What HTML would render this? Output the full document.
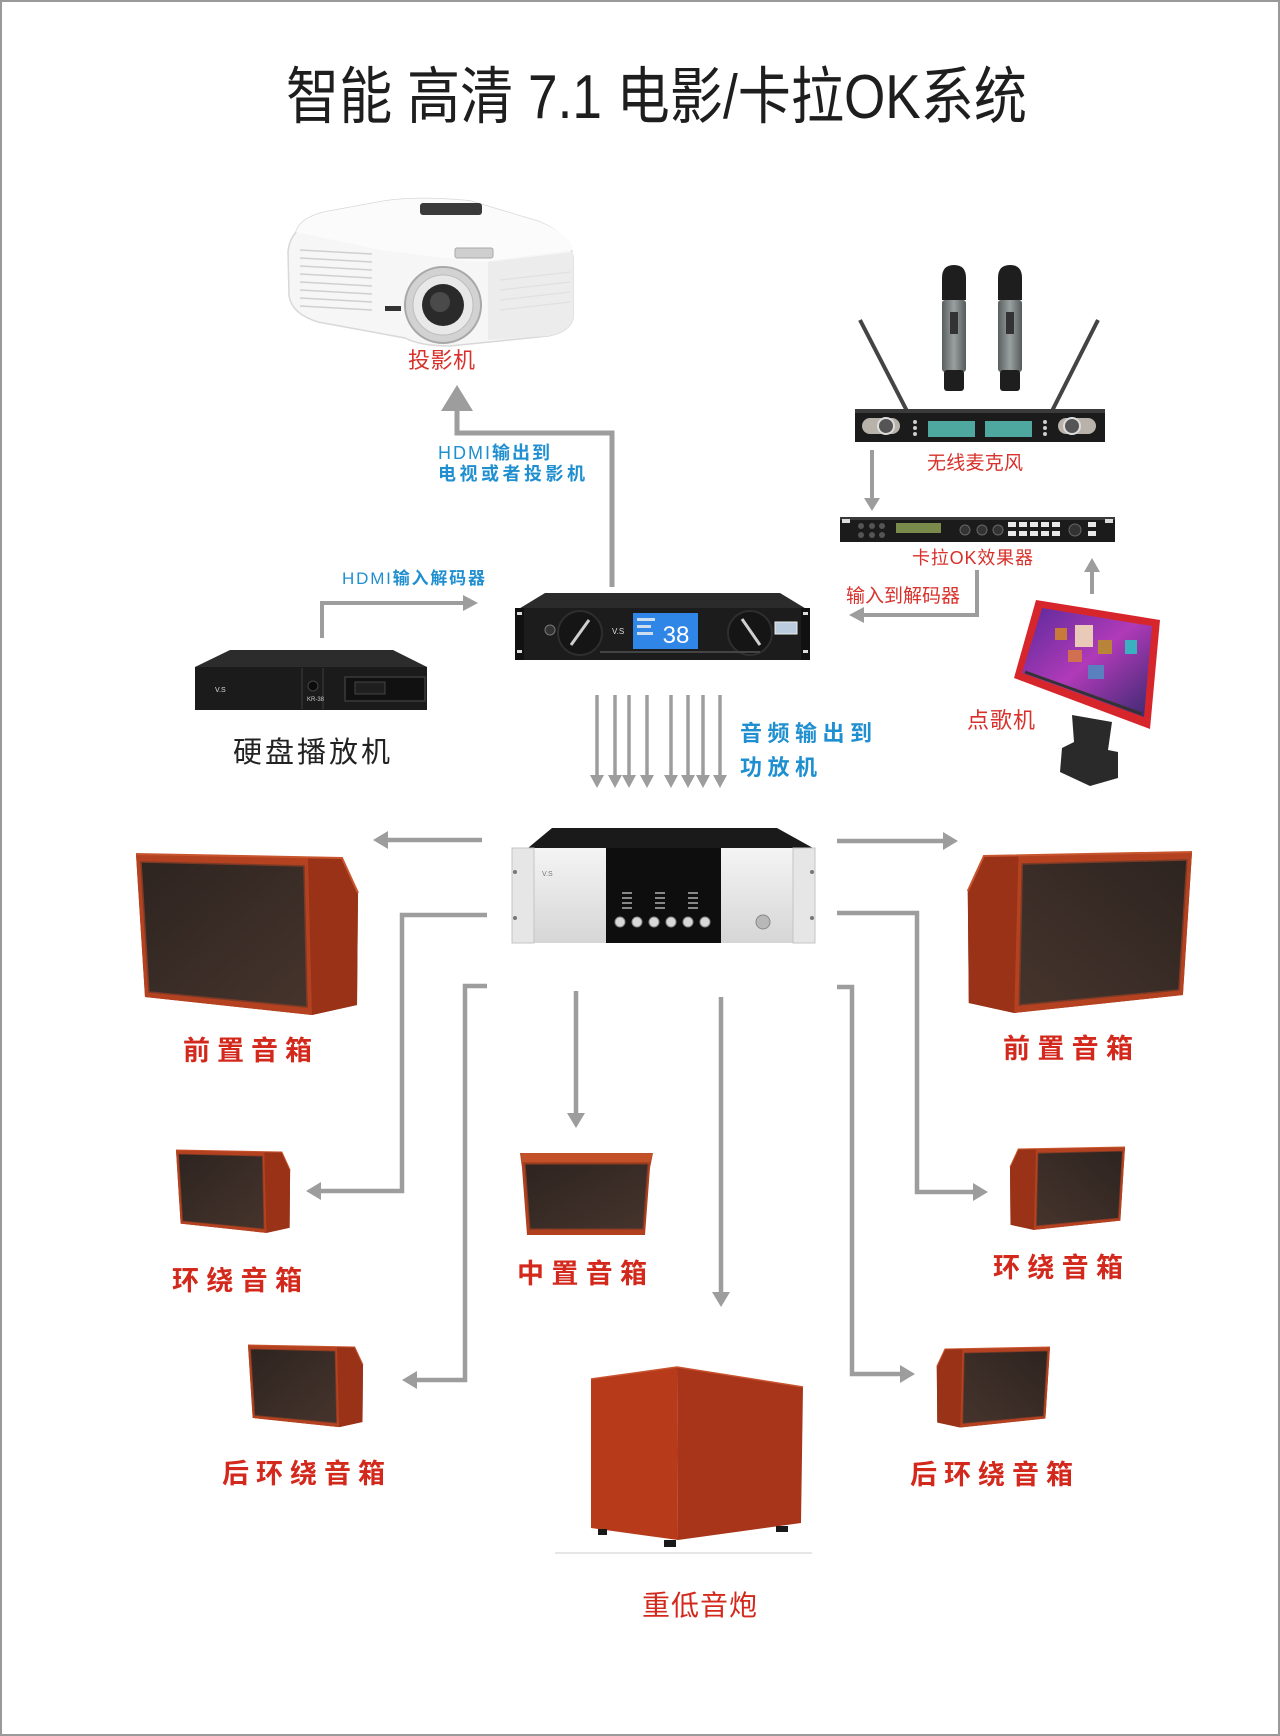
<!DOCTYPE html>
<html>
<head>
<meta charset="utf-8">
<style>
html,body{margin:0;padding:0;background:#fff;}
svg{display:block;}
text{font-family:"Liberation Sans","Noto Sans CJK SC",sans-serif;}
</style>
</head>
<body>
<svg width="1280" height="1736" viewBox="0 0 1280 1736" xmlns="http://www.w3.org/2000/svg">
<defs>
  <linearGradient id="silver" x1="0" y1="0" x2="0" y2="1">
    <stop offset="0" stop-color="#f4f4f4"/>
    <stop offset="1" stop-color="#d6d6d6"/>
  </linearGradient>
  <linearGradient id="screen" x1="0" y1="0" x2="1" y2="1">
    <stop offset="0" stop-color="#5a2a9a"/>
    <stop offset="0.5" stop-color="#b03ab8"/>
    <stop offset="1" stop-color="#3a2a70"/>
  </linearGradient>
  <linearGradient id="micbody" x1="0" y1="0" x2="1" y2="0">
    <stop offset="0" stop-color="#5a5f60"/>
    <stop offset="0.5" stop-color="#9aa0a0"/>
    <stop offset="1" stop-color="#555a5b"/>
  </linearGradient>
  <linearGradient id="grille" x1="0" y1="0" x2="1" y2="1">
    <stop offset="0" stop-color="#2e2420"/>
    <stop offset="1" stop-color="#45342c"/>
  </linearGradient>
  <g id="spk">
    <path d="M0,0 L206,4 L222,39 L221,151 L176,161 L9,143 Z" fill="#a63a1c"/>
    <path d="M0,0 L172,4 L176,161 L9,143 Z" fill="#b4411f"/>
    <path d="M172,4 L206,4 L222,39 L221,151 L176,161 Z" fill="#9a3217"/>
    <path d="M0,0 L206,4 L222,39" fill="none" stroke="#c8552e" stroke-width="2"/>
    <path d="M5,8 L168,12 L171,153 L13,138 Z" fill="url(#grille)" stroke="#7a3a26" stroke-width="1.5"/>
  </g>
</defs>

<rect x="0" y="0" width="1280" height="1736" fill="#ffffff"/>
<rect x="1" y="1" width="1278" height="1734" fill="none" stroke="#9a9a9a" stroke-width="2"/>

<!-- Title -->
<text x="286" y="118" font-size="62" fill="#1e1e1e" textLength="741" lengthAdjust="spacingAndGlyphs">智能 高清 7.1 电影/卡拉OK系统</text>

<!-- Projector -->
<g>
  <path d="M296,232 Q300,218 325,212 L385,201 Q420,196 470,201 L540,222 Q572,236 573,258 L573,318 Q570,332 548,336 L450,346 Q420,346 405,338 L318,322 Q292,314 289,296 L288,252 Q289,240 296,232 Z" fill="#f6f6f6" stroke="#d8d8d8" stroke-width="1.5"/>
  <path d="M296,232 Q300,218 325,212 L385,201 Q420,196 470,201 L540,222 Q572,236 573,250 L480,262 L380,250 Z" fill="#fbfbfb"/>
  <path d="M488,262 L573,252 L573,318 Q570,332 548,336 L488,340 Z" fill="#ececec"/>
  <rect x="420" y="203" width="62" height="12" rx="3" fill="#3a3a3a"/>
  <rect x="455" y="248" width="38" height="10" rx="2" fill="#cfcfcf" stroke="#aaa" stroke-width="1"/>
  <g stroke="#cfcfcf" stroke-width="1.6">
    <line x1="300" y1="250" x2="372" y2="254"/>
    <line x1="300" y1="258" x2="372" y2="262"/>
    <line x1="300" y1="266" x2="372" y2="270"/>
    <line x1="300" y1="274" x2="372" y2="278"/>
    <line x1="300" y1="282" x2="372" y2="286"/>
    <line x1="300" y1="290" x2="372" y2="294"/>
    <line x1="300" y1="298" x2="372" y2="302"/>
    <line x1="300" y1="306" x2="372" y2="310"/>
  </g>
  <g stroke="#e0e0e0" stroke-width="1.2">
    <line x1="500" y1="280" x2="570" y2="272"/>
    <line x1="500" y1="290" x2="570" y2="282"/>
    <line x1="500" y1="300" x2="570" y2="292"/>
    <line x1="500" y1="310" x2="570" y2="302"/>
  </g>
  <rect x="385" y="306" width="16" height="5" fill="#333"/>
  <circle cx="443" cy="305" r="38" fill="#d2d2d2" stroke="#a8a8a8" stroke-width="2"/>
  <circle cx="443" cy="305" r="30" fill="#e8e8e8" stroke="#bdbdbd" stroke-width="1"/>
  <circle cx="443" cy="305" r="21" fill="#2a2a2a"/>
  <circle cx="440" cy="302" r="10" fill="#4a4a4a"/>
</g>
<text x="408" y="368" font-size="22" fill="#d8302a" textLength="67">投影机</text>

<!-- Projector arrow -->
<polyline points="612,587 612,433 457,433 457,409" fill="none" stroke="#9d9d9d" stroke-width="5"/>
<polygon points="441,411 473,411 457,385" fill="#9d9d9d"/>
<text x="438" y="459" font-size="18" fill="#1f8fd0" textLength="112"><tspan>HDMI</tspan><tspan font-weight="bold">输出到</tspan></text>
<text x="438" y="480" font-size="18" font-weight="bold" fill="#1f8fd0" textLength="147">电视或者投影机</text>

<!-- Wireless mic -->
<g>
  <line x1="860" y1="320" x2="907" y2="411" stroke="#444" stroke-width="4"/>
  <line x1="1098" y1="320" x2="1052" y2="411" stroke="#444" stroke-width="4"/>
  <rect x="942" y="300" width="24" height="72" rx="3" fill="url(#micbody)"/>
  <path d="M942,300 L942,278 Q942,265 954,265 Q966,265 966,278 L966,300 Z" fill="#1e1e1e"/>
  <rect x="944" y="370" width="20" height="21" rx="3" fill="#1e1e1e"/>
  <rect x="950" y="312" width="8" height="22" fill="#333"/>
  <rect x="998" y="300" width="24" height="72" rx="3" fill="url(#micbody)"/>
  <path d="M998,300 L998,278 Q998,265 1010,265 Q1022,265 1022,278 L1022,300 Z" fill="#1e1e1e"/>
  <rect x="1000" y="370" width="20" height="21" rx="3" fill="#1e1e1e"/>
  <rect x="1006" y="312" width="8" height="22" fill="#333"/>
  <rect x="855" y="409" width="250" height="33" fill="#1b1b1b"/>
  <rect x="855" y="409" width="250" height="4" fill="#3a3a3a"/>
  <rect x="862" y="418" width="38" height="16" rx="8" fill="#b9b2aa"/>
  <circle cx="886" cy="426" r="8" fill="#555" stroke="#ddd" stroke-width="2"/>
  <rect x="1058" y="418" width="38" height="16" rx="8" fill="#b9b2aa"/>
  <circle cx="1072" cy="426" r="8" fill="#555" stroke="#ddd" stroke-width="2"/>
  <rect x="928" y="421" width="47" height="16" fill="#4fa8a0"/>
  <rect x="985" y="421" width="47" height="16" fill="#4fa8a0"/>
  <g fill="#ccc"><circle cx="915" cy="422" r="2"/><circle cx="915" cy="428" r="2"/><circle cx="915" cy="434" r="2"/><circle cx="1045" cy="422" r="2"/><circle cx="1045" cy="428" r="2"/><circle cx="1045" cy="434" r="2"/></g>
</g>
<text x="927" y="469" font-size="19" fill="#d8302a" textLength="96">无线麦克风</text>

<line x1="872" y1="450" x2="872" y2="499" stroke="#9d9d9d" stroke-width="4"/>
<polygon points="864,498 880,498 872,511" fill="#9d9d9d"/>

<!-- Effects processor -->
<g>
  <rect x="840" y="517" width="275" height="25" fill="#1b1b1b"/>
  <rect x="840" y="517" width="275" height="3" fill="#3a3a3a"/>
  <rect x="842" y="519" width="8" height="4" fill="#ddd"/>
  <rect x="1105" y="519" width="8" height="4" fill="#ddd"/>
  <g fill="#555"><circle cx="861" cy="526" r="3"/><circle cx="872" cy="526" r="3"/><circle cx="882" cy="526" r="3"/><circle cx="861" cy="535" r="3"/><circle cx="872" cy="535" r="3"/><circle cx="882" cy="535" r="3"/></g>
  <rect x="896" y="523" width="45" height="10" fill="#7a8a4a"/>
  <g fill="#333" stroke="#666" stroke-width="1"><circle cx="965" cy="530" r="5"/><circle cx="982" cy="530" r="5"/><circle cx="998" cy="530" r="5"/><circle cx="1075" cy="530" r="6"/></g>
  <g fill="#e8e8e8"><rect x="1008" y="522" width="8" height="5"/><rect x="1019" y="522" width="8" height="5"/><rect x="1030" y="522" width="8" height="5"/><rect x="1041" y="522" width="8" height="5"/><rect x="1052" y="522" width="8" height="5"/><rect x="1008" y="531" width="8" height="5"/><rect x="1019" y="531" width="8" height="5"/><rect x="1030" y="531" width="8" height="5"/><rect x="1041" y="531" width="8" height="5"/><rect x="1052" y="531" width="8" height="5"/><rect x="1088" y="522" width="8" height="5"/><rect x="1088" y="531" width="8" height="5"/></g>
</g>
<text x="912" y="564" font-size="18" fill="#d8302a" textLength="121">卡拉OK效果器</text>

<!-- Input to decoder arrow -->
<polyline points="977,570 977,615 863,615" fill="none" stroke="#9d9d9d" stroke-width="4"/>
<polygon points="864,607 864,623 849,615" fill="#9d9d9d"/>
<text x="846" y="602" font-size="19" fill="#d8302a" textLength="114">输入到解码器</text>

<!-- Kiosk up arrow -->
<line x1="1092" y1="594" x2="1092" y2="571" stroke="#9d9d9d" stroke-width="4"/>
<polygon points="1084,572 1100,572 1092,558" fill="#9d9d9d"/>

<!-- Kiosk -->
<g>
  <path d="M1072,715 L1112,722 L1108,750 L1118,752 L1118,778 L1090,786 L1060,772 L1062,748 L1074,742 Z" fill="#2a2a2a"/>
  <path d="M1036,600 L1160,620 L1150,729 L1014,678 Z" fill="#d6262b"/>
  <path d="M1042,608 L1152,626 L1144,717 L1022,673 Z" fill="url(#screen)"/>
  <rect x="1075" y="625" width="18" height="22" fill="#e9c9b8"/>
  <rect x="1055" y="628" width="12" height="12" fill="#c87a3a"/>
  <rect x="1098" y="640" width="14" height="14" fill="#b8843a"/>
  <rect x="1125" y="640" width="12" height="14" fill="#3ab0c0"/>
  <rect x="1068" y="650" width="14" height="12" fill="#d07050"/>
  <rect x="1088" y="665" width="16" height="14" fill="#5a80c0"/>
  <line x1="1025" y1="672" x2="1142" y2="714" stroke="#333" stroke-width="3"/>
</g>
<text x="967" y="728" font-size="22" fill="#d8302a" textLength="68">点歌机</text>

<!-- Decoder -->
<g>
  <path d="M545,593 L780,593 L808,610 L517,610 Z" fill="#2b2b2b"/>
  <rect x="515" y="608" width="295" height="52" fill="#1c1c1c"/>
  <rect x="515" y="608" width="9" height="52" fill="#111"/>
  <rect x="801" y="608" width="9" height="52" fill="#111"/>
  <rect x="517" y="612" width="5" height="3" fill="#ddd"/><rect x="517" y="650" width="5" height="3" fill="#ddd"/>
  <rect x="803" y="612" width="5" height="3" fill="#ddd"/><rect x="803" y="650" width="5" height="3" fill="#ddd"/>
  <circle cx="580" cy="633" r="22" fill="#151515" stroke="#2e2e2e" stroke-width="2"/>
  <line x1="571" y1="645" x2="589" y2="620" stroke="#cfcfcf" stroke-width="3"/>
  <circle cx="750" cy="633" r="22" fill="#151515" stroke="#2e2e2e" stroke-width="2"/>
  <line x1="742" y1="619" x2="760" y2="645" stroke="#cfcfcf" stroke-width="3"/>
  <circle cx="550" cy="630" r="5" fill="#333" stroke="#777" stroke-width="1"/>
  <rect x="633" y="613" width="65" height="36" fill="#2f86e6"/>
  <rect x="637" y="618" width="18" height="3" fill="#cde"/><rect x="637" y="625" width="14" height="3" fill="#cde"/><rect x="637" y="632" width="16" height="3" fill="#cde"/>
  <text x="676" y="643" font-size="24" fill="#ffffff" text-anchor="middle" font-family="Liberation Serif, serif">38</text>
  <text x="612" y="634" font-size="8" fill="#ddd">V.S</text>
  <rect x="775" y="622" width="22" height="12" fill="#bcd" stroke="#eee" stroke-width="1"/>
  <rect x="600" y="651" width="160" height="2" fill="#444"/>
</g>

<!-- HDD player -->
<g>
  <path d="M230,650 L393,650 L427,667 L195,667 Z" fill="#2c2c2c"/>
  <rect x="195" y="667" width="232" height="43" fill="#1b1b1b"/>
  <line x1="302" y1="668" x2="302" y2="709" stroke="#333" stroke-width="1.5"/>
  <line x1="323" y1="668" x2="323" y2="709" stroke="#333" stroke-width="1.5"/>
  <circle cx="313" cy="686" r="5" fill="#0c0c0c" stroke="#444" stroke-width="1"/>
  <rect x="345" y="677" width="80" height="24" fill="#111" stroke="#3a3a3a" stroke-width="1.5"/>
  <rect x="355" y="682" width="30" height="12" fill="#1f1f1f" stroke="#444" stroke-width="1"/>
  <text x="215" y="692" font-size="7" fill="#ddd">V.S</text>
  <text x="307" y="701" font-size="6" fill="#ccc">KR-38</text>
</g>
<text x="233" y="762" font-size="29" fill="#222" textLength="157">硬盘播放机</text>

<!-- HDMI in arrow -->
<polyline points="322,638 322,603 463,603" fill="none" stroke="#9d9d9d" stroke-width="4"/>
<polygon points="463,595 463,611 478,603" fill="#9d9d9d"/>
<text x="342" y="584" font-size="17" fill="#1f8fd0" textLength="143"><tspan>HDMI</tspan><tspan font-weight="bold">输入解码器</tspan></text>

<!-- Eight down arrows -->
<g stroke="#9d9d9d" stroke-width="3.5">
  <line x1="597" y1="695" x2="597" y2="776"/>
  <line x1="615" y1="695" x2="615" y2="776"/>
  <line x1="629" y1="695" x2="629" y2="776"/>
  <line x1="647" y1="695" x2="647" y2="776"/>
  <line x1="671" y1="695" x2="671" y2="776"/>
  <line x1="688" y1="695" x2="688" y2="776"/>
  <line x1="703" y1="695" x2="703" y2="776"/>
  <line x1="720" y1="695" x2="720" y2="776"/>
</g>
<g fill="#9d9d9d">
  <polygon points="590,775 604,775 597,788"/>
  <polygon points="608,775 622,775 615,788"/>
  <polygon points="622,775 636,775 629,788"/>
  <polygon points="640,775 654,775 647,788"/>
  <polygon points="664,775 678,775 671,788"/>
  <polygon points="681,775 695,775 688,788"/>
  <polygon points="696,775 710,775 703,788"/>
  <polygon points="713,775 727,775 720,788"/>
</g>
<text x="740" y="741" font-size="22" font-weight="bold" fill="#1f8fd0" textLength="132">音频输出到</text>
<text x="740" y="775" font-size="22" font-weight="bold" fill="#1f8fd0" textLength="77">功放机</text>

<!-- Amplifier -->
<g>
  <path d="M552,828 L777,828 L813,848 L528,848 Z" fill="#1a1a1a"/>
  <rect x="512" y="848" width="303" height="95" fill="url(#silver)"/>
  <rect x="512" y="848" width="22" height="95" fill="#e6e6e6" stroke="#c4c4c4" stroke-width="1"/>
  <rect x="793" y="848" width="22" height="95" fill="#e6e6e6" stroke="#c4c4c4" stroke-width="1"/>
  <circle cx="515" cy="872" r="2" fill="#777"/><circle cx="515" cy="918" r="2" fill="#777"/>
  <circle cx="812" cy="872" r="2" fill="#777"/><circle cx="812" cy="918" r="2" fill="#777"/>
  <rect x="606" y="848" width="115" height="95" fill="#0e0e0e"/>
  <text x="542" y="876" font-size="7" fill="#777">V.S</text>
  <g fill="#888">
    <rect x="622" y="892" width="10" height="2"/><rect x="622" y="897" width="10" height="2"/><rect x="622" y="902" width="10" height="2"/><rect x="622" y="907" width="10" height="2"/>
    <rect x="655" y="892" width="10" height="2"/><rect x="655" y="897" width="10" height="2"/><rect x="655" y="902" width="10" height="2"/><rect x="655" y="907" width="10" height="2"/>
    <rect x="688" y="892" width="10" height="2"/><rect x="688" y="897" width="10" height="2"/><rect x="688" y="902" width="10" height="2"/><rect x="688" y="907" width="10" height="2"/>
  </g>
  <g fill="#d8d8d8" stroke="#888" stroke-width="1">
    <circle cx="620" cy="922" r="5"/><circle cx="637" cy="922" r="5"/><circle cx="654" cy="922" r="5"/>
    <circle cx="671" cy="922" r="5"/><circle cx="688" cy="922" r="5"/><circle cx="705" cy="922" r="5"/>
  </g>
  <circle cx="763" cy="922" r="7" fill="#b8b8b8" stroke="#888" stroke-width="1"/>
</g>

<!-- Amp output arrows -->
<g fill="none" stroke="#9d9d9d" stroke-width="4.5">
  <polyline points="482,840 387,840"/>
  <polyline points="837,841 944,841"/>
  <polyline points="487,915 402,915 402,1191 320,1191"/>
  <polyline points="837,913 917,913 917,1192 974,1192"/>
  <polyline points="487,986 465,986 465,1380 416,1380"/>
  <polyline points="837,987 852,987 852,1374 901,1374"/>
  <polyline points="576,991 576,1114"/>
  <polyline points="721,997 721,1293"/>
</g>
<g fill="#9d9d9d">
  <polygon points="388,831 388,849 373,840"/>
  <polygon points="943,832 943,850 958,841"/>
  <polygon points="321,1182 321,1200 306,1191"/>
  <polygon points="973,1183 973,1201 988,1192"/>
  <polygon points="417,1371 417,1389 402,1380"/>
  <polygon points="900,1365 900,1383 915,1374"/>
  <polygon points="567,1113 585,1113 576,1128"/>
  <polygon points="712,1292 730,1292 721,1307"/>
</g>

<!-- Speakers -->
<use href="#spk" transform="translate(136,854)"/>
<use href="#spk" transform="translate(1192,852) scale(-1.01,1)"/>
<use href="#spk" transform="translate(176,1150) scale(0.514,0.515)"/>
<use href="#spk" transform="translate(248,1345) scale(0.518,0.51)"/>
<use href="#spk" transform="translate(1125,1147) scale(-0.518,0.515)"/>
<use href="#spk" transform="translate(1050,1347) scale(-0.51,0.5)"/>

<!-- Center speaker -->
<g>
  <path d="M520,1153 L653,1153 L650,1168 L645,1235 L527,1235 L522,1168 Z" fill="#b0401e"/>
  <path d="M520,1153 L653,1153 L650,1162 L522,1162 Z" fill="#c2512a"/>
  <path d="M525,1164 L648,1164 L643,1229 L530,1229 Z" fill="url(#grille)" stroke="#7a3a26" stroke-width="1.2"/>
</g>

<!-- Subwoofer -->
<g>
  <line x1="555" y1="1553" x2="812" y2="1553" stroke="#e6e6e6" stroke-width="2"/>
  <path d="M591,1379 L677,1367 L678,1540 L591,1528 Z" fill="#b73b1b"/>
  <path d="M677,1367 L803,1387 L801,1523 L678,1540 Z" fill="#a8351a"/>
  <path d="M591,1379 L677,1367 L803,1387" fill="none" stroke="#c9532e" stroke-width="1.5"/>
  <rect x="598" y="1529" width="9" height="6" fill="#1a1a1a"/>
  <rect x="664" y="1540" width="12" height="7" fill="#1a1a1a"/>
  <rect x="776" y="1526" width="12" height="6" fill="#1a1a1a"/>
</g>

<!-- Speaker labels -->
<g font-size="27" font-weight="bold" fill="#d3281c">
  <text x="183" y="1060" textLength="129">前置音箱</text>
  <text x="1003" y="1058" textLength="130">前置音箱</text>
  <text x="172" y="1290" textLength="130">环绕音箱</text>
  <text x="517" y="1283" textLength="130">中置音箱</text>
  <text x="993" y="1277" textLength="130">环绕音箱</text>
  <text x="222" y="1483" textLength="163">后环绕音箱</text>
  <text x="910" y="1484" textLength="163">后环绕音箱</text>
</g>
<text x="642" y="1615" font-size="28" fill="#d3281c" textLength="115">重低音炮</text>
</svg>
</body>
</html>
